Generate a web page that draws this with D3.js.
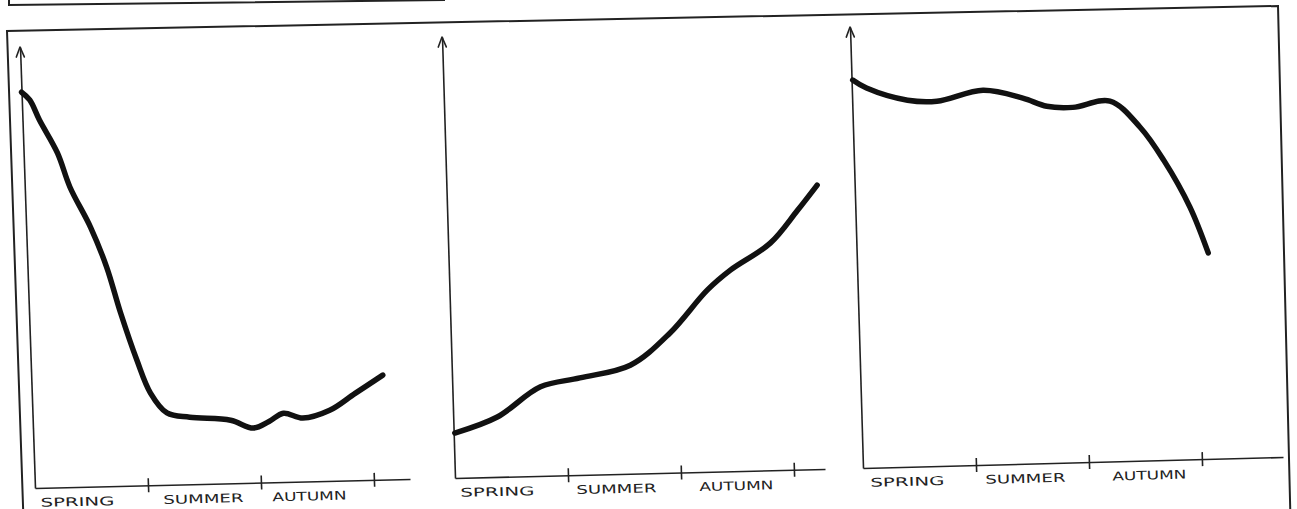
<!DOCTYPE html>
<html>
<head>
<meta charset="utf-8">
<script src="https://cdn.jsdelivr.net/npm/d3@7"></script>
<style>
  body { margin: 0; background: #fff; }
  svg { display: block; }
  .frame { fill: none; stroke: #222; stroke-width: 2; }
  .curve { fill: none; stroke: #111; stroke-width: 5.5; stroke-linecap: round; stroke-linejoin: round; }
  .axis path, .axis line { stroke: #222; stroke-width: 1.6; fill: none; }
  .arrow { fill: none; stroke: #222; stroke-width: 1.6; stroke-linecap: round; stroke-linejoin: round; }
  .season-label { font: 12px "DejaVu Sans", sans-serif; fill: #222; }
</style>
</head>
<body>
<div id="chart"></div>
<script>
let width = 1297
let height = 509

let seasons = ["SPRING", "SUMMER", "AUTUMN"]
let seasonTicks = [1, 2, 3]

// x is position through the year in seasons (0 = start of spring), y is a 0-100 level
let fallingX = [0.00, 0.07, 0.15, 0.30, 0.40, 0.57, 0.70, 0.81, 0.94, 1.05, 1.19, 1.39, 1.75, 1.95, 2.09, 2.22, 2.39, 2.63, 2.86, 3.11]
let fallingY = [89.8, 88.0, 83.4, 75.8, 68.0, 58.8, 49.7, 39.2, 28.4, 20.9, 16.3, 15.2, 14.3, 12.4, 13.8, 15.6, 14.4, 16.0, 19.7, 23.7]

let risingX = [0.01, 0.39, 0.78, 1.13, 1.58, 1.94, 2.28, 2.49, 2.85, 3.10, 3.28]
let risingY = [10.2, 13.6, 20.2, 22.0, 24.6, 31.7, 41.2, 45.6, 51.5, 58.8, 64.4]

let plateauX = [0.01, 0.13, 0.49, 0.75, 1.16, 1.51, 1.72, 1.95, 2.28, 2.54, 2.74, 2.96, 3.11]
let plateauY = [88.0, 86.1, 83.1, 82.7, 84.9, 82.9, 80.9, 80.5, 81.7, 75.6, 68.0, 57.2, 46.7]

// hand drawn, so every panel is a little crooked: corner, end of x axis, top of y axis
let seasonPx = 113
let valuePx = 4.41
let panels = [
  { xs: fallingX, ys: fallingY, origin: [35, 488], xEnd: [410, 479], yTop: [20, 47], labelPad: [5, 15, 11] },
  { xs: risingX, ys: risingY, origin: [455, 478], xEnd: [825, 469], yTop: [442, 37], labelPad: [5, 8, 18] },
  { xs: plateauX, ys: plateauY, origin: [863, 468], xEnd: [1283, 457], yTop: [850, 27], labelPad: [7, 9, 23] }
]
let labelWidths = [74, 80, 74]

let svg = d3.select("#chart").append("svg")
  .attr("width", width)
  .attr("height", height)

// piece of the box above, cut off by the crop
svg.append("path")
  .attr("class", "frame")
  .attr("stroke-width", 1.5)
  .attr("d", "M9,-5 L9,5 L445,0")

// outer frame
svg.append("path")
  .attr("class", "frame")
  .attr("d", "M23.5,520 L7,31 L1278,6 L1290.5,520")

panels.forEach(drawPanel)

function drawPanel(p) {
  let ox = p.origin[0], oy = p.origin[1]
  let lx = Math.hypot(p.xEnd[0] - ox, p.xEnd[1] - oy)
  let ly = Math.hypot(p.yTop[0] - ox, p.yTop[1] - oy)
  let ex = [(p.xEnd[0] - ox) / lx, (p.xEnd[1] - oy) / lx]
  let ey = [(ox - p.yTop[0]) / ly, (oy - p.yTop[1]) / ly]

  let g = svg.append("g")
    .attr("transform", `matrix(${ex[0]},${ex[1]},${ey[0]},${ey[1]},${ox},${oy})`)

  let x = d3.scaleLinear().domain([0, lx / seasonPx]).range([0, lx])
  let y = d3.scaleLinear().domain([0, ly / valuePx]).range([0, -ly])

  let xAxis = g.append("g")
    .attr("class", "axis")
    .call(d3.axisBottom(x).tickValues(seasonTicks).tickSize(7).tickSizeOuter(0).tickFormat(""))
  xAxis.selectAll(".tick line").attr("y1", -7)

  g.append("g")
    .attr("class", "axis")
    .call(d3.axisLeft(y).tickValues([]).tickSizeOuter(0))

  g.append("path")
    .attr("class", "arrow")
    .attr("d", `M-4,${-ly + 10} L0,${-ly} L4,${-ly + 10}`)

  g.selectAll("text.season-label")
    .data(seasons)
    .join("text")
    .attr("class", "season-label")
    .attr("x", (d, i) => x(i) + p.labelPad[i])
    .attr("y", 19)
    .attr("textLength", (d, i) => labelWidths[i])
    .attr("lengthAdjust", "spacingAndGlyphs")
    .text(d => d)

  let line = d3.line()
    .x((d, i) => x(p.xs[i]))
    .y(d => y(d))
    .curve(d3.curveCatmullRom.alpha(0.5))

  g.append("path")
    .datum(p.ys)
    .attr("class", "curve")
    .attr("d", line)
}
</script>
</body>
</html>
